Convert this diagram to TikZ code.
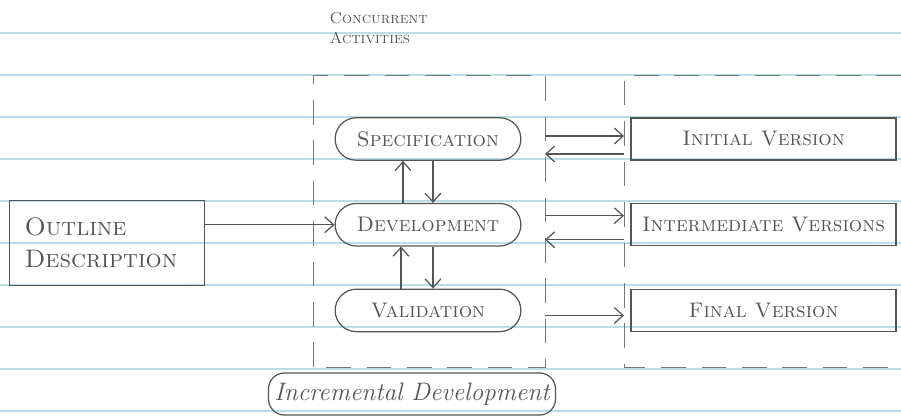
\documentclass[tikz,border=0pt]{standalone}
\usepackage{tikz}
\usetikzlibrary{arrows.meta, positioning, calc, shapes.misc}
\definecolor{pencil}{RGB}{85,85,85}
\definecolor{ruling}{RGB}{185,222,230}
\tikzset{>={Straight Barb[length=5pt,width=9pt]}}

\begin{document}
\begin{tikzpicture}[x=0.02cm, y=-0.02cm, line width=0.7pt,
    every node/.style={text=pencil},
    activity/.style={draw=pencil, rounded rectangle, minimum width=3.95cm, minimum height=0.85cm, font=\large\scshape},
    versionbox/.style={draw=pencil, minimum width=5.3cm, minimum height=0.84cm, font=\large\scshape},
    frameline/.style={draw=pencil!80, line width=0.55pt, dash pattern=on 14pt off 9pt},
    flow/.style={draw=pencil, ->}]
        % paper
        \fill[white] (0,0) rectangle (901,418);
        \useasboundingbox (0,0) rectangle (901,418);
        \foreach \y in {33,75,...,411}
          \draw[ruling, line width=0.7pt] (0,\y) -- (901,\y);

        \node[anchor=north west, align=left, font=\small\scshape, inner sep=0pt] (conc) at (329,12) {Concurrent\\Activities};

        \node[activity] (spec) at (428,139) {Specification};
        \node[activity, below=0.84cm of spec] (dev) {Development};
        \node[activity, below=0.84cm of dev] (val) {Validation};

        \node[versionbox, right=2.18cm of spec] (init) {Initial Version};
        \node[versionbox, right=2.18cm of dev] (inter) {Intermediate Versions};
        \node[versionbox, right=2.18cm of val] (final) {Final Version};

        \node[draw=pencil, minimum width=3.9cm, minimum height=1.7cm, text width=3.3cm, align=left, font=\Large\scshape] (outline) at (107,243) {Outline\\Description};

        \node[draw=pencil, rounded corners=9pt, minimum width=5.64cm, minimum height=0.84cm, font=\Large\itshape] (incr) at (412,394) {Incremental Development};

        % frames
        \coordinate (actTL) at (313,75);
        \coordinate (actTR) at (545,75);
        \coordinate (actBL) at (313,367);
        \coordinate (actBR) at (545,367);
        \coordinate (verTL) at (624,75);
        \coordinate (verBL) at (624,367);
        \draw[frameline] (actBL) -- (actTL) -- (actTR) -- (actBR) -- (actBL);
        \draw[frameline] (901,75) -- (verTL) -- (verBL) -- (901,367);

        % arrows
        \draw[flow] (outline.east |- dev.west) -- (dev.west);
        \draw[flow] ($(dev.north)+(-25,0)$) -- ($(spec.south)+(-25,0)$);
        \draw[flow] ($(spec.south)+(5,0)$) -- ($(dev.north)+(5,0)$);
        \draw[flow] ($(val.north)+(-27,0)$) -- ($(dev.south)+(-27,0)$);
        \draw[flow] ($(dev.south)+(5,0)$) -- ($(val.north)+(5,0)$);

        \draw[flow] ($(spec.east -| actTR)+(0,-3)$) -- ($(init.west -| verTL)+(0,-3)$);
        \draw[flow] ($(init.west -| verTL)+(0,15)$) -- ($(spec.east -| actTR)+(0,15)$);
        \draw[flow] ($(dev.east -| actTR)+(0,-9)$) -- ($(inter.west -| verTL)+(0,-9)$);
        \draw[flow] ($(inter.west -| verTL)+(0,15)$) -- ($(dev.east -| actTR)+(0,15)$);
        \draw[flow] ($(val.east -| actTR)+(0,5)$) -- ($(final.west -| verTL)+(0,5)$);
      \end{tikzpicture}
\end{document}
